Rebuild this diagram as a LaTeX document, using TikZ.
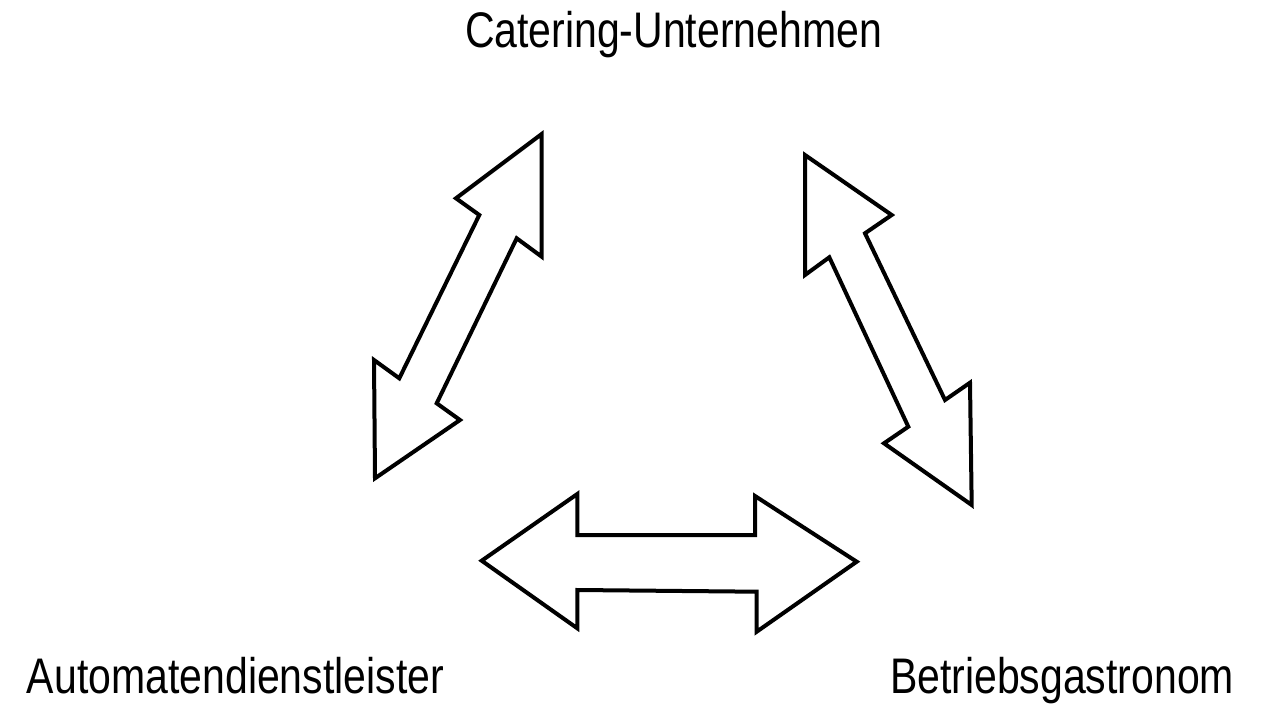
\documentclass[tikz,border=0pt]{standalone}
\usepackage{fontspec}
\usepackage{graphicx}
\newfontfamily\labfont{Liberation Sans}
\tikzset{
  lbl/.style={inner sep=0pt, outer sep=0pt, anchor=base west, font=\labfont\fontsize{50}{60}\selectfont},
  bigarrow/.style={draw=black, line width=4pt, fill=white, line join=miter}
}
\newcommand{\sq}[1]{\scalebox{0.82}[1]{#1}}
\begin{document}
\begin{tikzpicture}[x=1pt,y=-1pt]
\useasboundingbox[fill=white] (0,0) rectangle (1264,704);
% labels
\node[lbl] (cat) at (465,47) {\sq{Catering-Unternehmen}};
\node[lbl] (aut) at (27,693) {\sq{Automatendienstleister}};
\node[lbl] (bet) at (890,693) {\sq{Betriebsgastronom}};
% left double arrow (Catering <-> Automaten)
\draw[bigarrow] (541.7,134) -- (541.7,256.7) -- (516.7,238.3) -- (436.7,403.3)
  -- (460,420) -- (375,478.3) -- (374,360) -- (399.3,378.3) -- (479.3,215)
  -- (456,198.3) -- cycle;
% right double arrow (Catering <-> Betriebsgastronom)
\draw[bigarrow] (805,155) -- (891.7,215) -- (865,233.3) -- (945,400)
  -- (970,382.7) -- (971.7,505) -- (884,443.3) -- (908.3,426.7) -- (829.3,257.3)
  -- (805,275) -- cycle;
% bottom double arrow (Automaten <-> Betriebsgastronom)
\draw[bigarrow] (481.7,560.7) -- (577.3,494) -- (577.3,535) -- (755,535)
  -- (755,496) -- (856.7,561.7) -- (756.7,631.7) -- (756.7,591.7) -- (577.3,590)
  -- (577.3,628.3) -- cycle;
\end{tikzpicture}
\end{document}
